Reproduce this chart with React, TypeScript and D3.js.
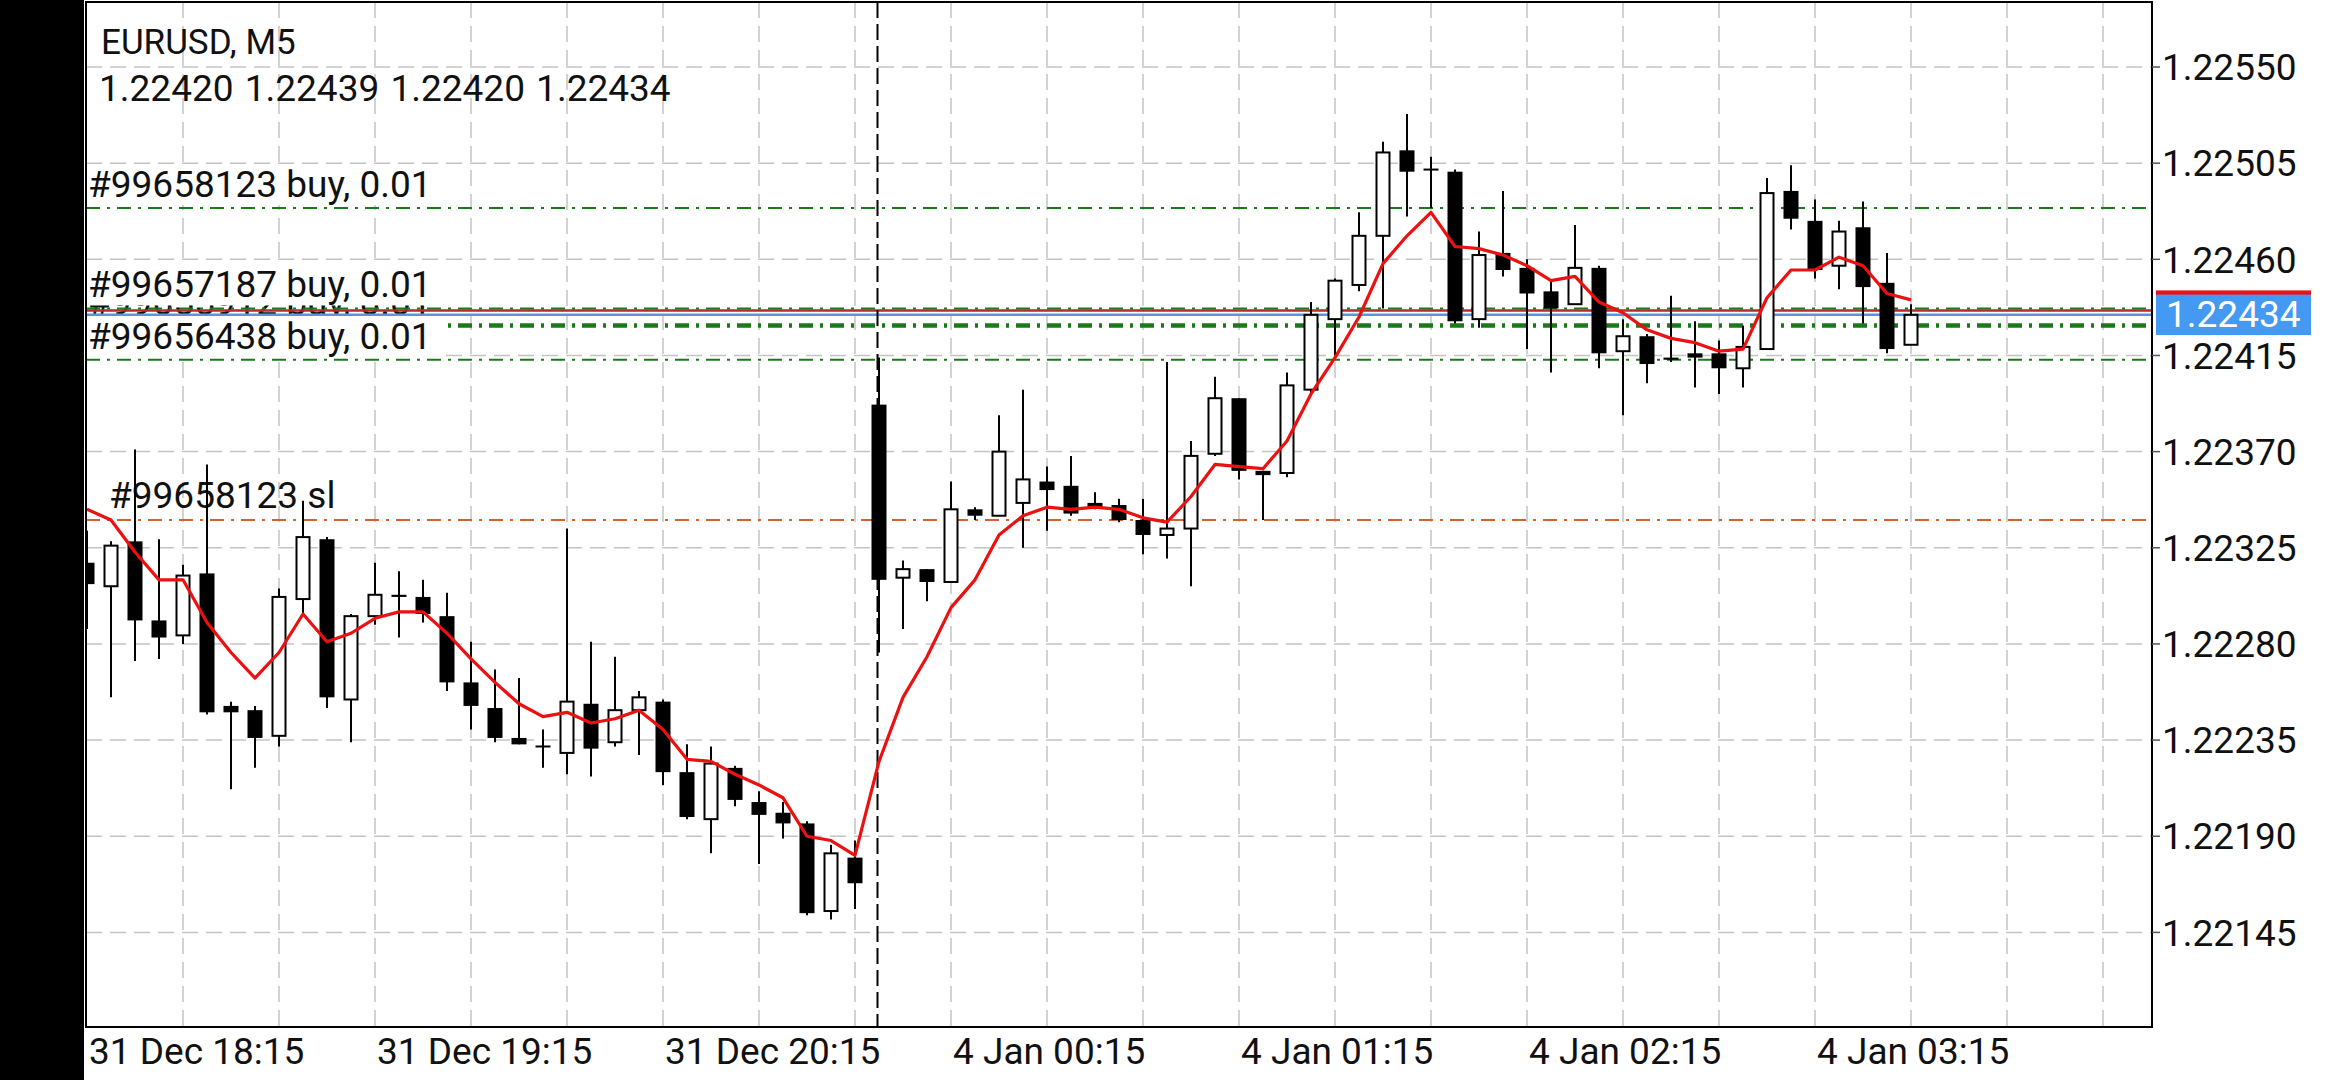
import React from "react";
import * as d3 from "d3";

// ---------- data ----------
const symbolTitle = "EURUSD, M5";
const lastBarQuote = ["1.22420", "1.22439", "1.22420", "1.22434"];

const opens = [
  1.22318, 1.22307, 1.22328, 1.22291, 1.22284, 1.22313, 1.22251, 1.22249, 1.22237, 1.22301,
  1.22329, 1.22254, 1.22293, 1.22303, 1.22302, 1.22293, 1.22262, 1.2225, 1.22236, 1.22232,
  1.22229, 1.22252, 1.22234, 1.22249, 1.22253, 1.2222, 1.22198, 1.22222, 1.22206, 1.22201,
  1.22196, 1.22155, 1.2218, 1.22392, 1.22311, 1.22315, 1.22309, 1.22343, 1.2234, 1.22346,
  1.22356, 1.22354, 1.22346, 1.22345, 1.22338, 1.22331, 1.22334, 1.22369, 1.22395, 1.22361,
  1.2236, 1.22399, 1.22432, 1.22448, 1.22471, 1.22511, 1.22502, 1.22501, 1.22432, 1.22463,
  1.22456, 1.22445, 1.22439, 1.22456, 1.22417, 1.22424, 1.22414, 1.22416, 1.22416, 1.22409,
  1.22418, 1.22492, 1.22478, 1.22457, 1.22475, 1.22449, 1.2242,
];
const highs = [
  1.22333, 1.22328, 1.22371, 1.22329, 1.22317, 1.22364, 1.22253, 1.22251, 1.22306, 1.22347,
  1.2233, 1.22294, 1.22318, 1.22314, 1.2231, 1.22304, 1.22281, 1.22268, 1.22264, 1.2224,
  1.22334, 1.22281, 1.22274, 1.22258, 1.22254, 1.22233, 1.22232, 1.22223, 1.22211, 1.22206,
  1.22197, 1.22186, 1.22188, 1.22414, 1.22319, 1.22315, 1.22356, 1.22344, 1.22387, 1.22399,
  1.22363, 1.22368, 1.22351, 1.22348, 1.22348, 1.22412, 1.22375, 1.22405, 1.22395, 1.22361,
  1.22407, 1.2244, 1.22451, 1.22482, 1.22515, 1.22528, 1.22508, 1.22502, 1.22473, 1.22492,
  1.2246, 1.2245, 1.22476, 1.22457, 1.22432, 1.22425, 1.22443, 1.22431, 1.22422, 1.22429,
  1.22498, 1.22504, 1.22488, 1.22478, 1.22487, 1.22463, 1.22439,
];
const lows = [
  1.22287, 1.22255, 1.22272, 1.22273, 1.2228, 1.22247, 1.22212, 1.22222, 1.22232, 1.22294,
  1.2225, 1.22234, 1.22289, 1.22283, 1.2229, 1.22258, 1.2224, 1.22234, 1.22233, 1.22222,
  1.22219, 1.22218, 1.22232, 1.22228, 1.22214, 1.22198, 1.22182, 1.22204, 1.22177, 1.22189,
  1.22153, 1.22151, 1.22156, 1.22276, 1.22287, 1.223, 1.22309, 1.22338, 1.2234, 1.22325,
  1.22333, 1.2234, 1.22343, 1.22337, 1.22322, 1.2232, 1.22307, 1.22368, 1.22357, 1.22338,
  1.22358, 1.22397, 1.22415, 1.22445, 1.22437, 1.2248, 1.22484, 1.2243, 1.22428, 1.22452,
  1.22418, 1.22407, 1.22439, 1.22409, 1.22387, 1.22402, 1.22412, 1.224, 1.22397, 1.224,
  1.22418, 1.22474, 1.22451, 1.22446, 1.2243, 1.22416, 1.2242,
];
const closes = [
  1.22308, 1.22326, 1.22291, 1.22283, 1.22312, 1.22248, 1.22248, 1.22236, 1.22302, 1.2233,
  1.22255, 1.22293, 1.22303, 1.22302, 1.22294, 1.22262, 1.22251, 1.22236, 1.22233, 1.22232,
  1.22253, 1.22231, 1.22249, 1.22255, 1.2222, 1.22199, 1.22224, 1.22207, 1.222, 1.22196,
  1.22154, 1.22182, 1.22168, 1.2231, 1.22315, 1.22309, 1.22343, 1.2234, 1.2237, 1.22357,
  1.22352, 1.22341, 1.22344, 1.22338, 1.22331, 1.22334, 1.22368, 1.22395, 1.22361, 1.22359,
  1.22401, 1.22434, 1.2245, 1.22471, 1.2251, 1.22501, 1.22502, 1.22431, 1.22462, 1.22455,
  1.22444, 1.22437, 1.22456, 1.22416, 1.22424, 1.22411, 1.22413, 1.22414, 1.22409, 1.22419,
  1.22491, 1.22479, 1.22455, 1.22473, 1.22447, 1.22418, 1.22434,
];
const maValues = [
  1.22343, 1.22338, 1.22323, 1.2231, 1.2231, 1.2229, 1.22276, 1.22264, 1.22276, 1.22294,
  1.22281, 1.22285, 1.22292, 1.22295, 1.22295, 1.22285, 1.22273, 1.22262, 1.22252, 1.22246,
  1.22248, 1.22243, 1.22245, 1.22249, 1.2224, 1.22226, 1.22225, 1.22219, 1.22214, 1.22208,
  1.2219, 1.22188, 1.22181, 1.22225, 1.22255, 1.22274, 1.22297, 1.2231, 1.22331, 1.2234,
  1.22344, 1.22343, 1.22344, 1.22343, 1.22339, 1.22337, 1.22349, 1.22364, 1.22363, 1.22362,
  1.22375, 1.22397, 1.22414, 1.22433, 1.22458, 1.22471, 1.22482, 1.22466, 1.22465, 1.22462,
  1.22457, 1.2245, 1.22452, 1.2244, 1.22435, 1.22427, 1.22423, 1.22421, 1.22417, 1.22418,
  1.22442, 1.22455, 1.22455, 1.22461, 1.22457, 1.22444, 1.22441,
];

const timeLabels = ["31 Dec 18:15", "31 Dec 19:15", "31 Dec 20:15", "4 Jan 00:15", "4 Jan 01:15", "4 Jan 02:15", "4 Jan 03:15"];
const timeLabelBars = [0, 12, 24, 36, 48, 60, 72];
const daySeparatorBars = [33];
const priceTicks = [1.2255, 1.22505, 1.2246, 1.22415, 1.2237, 1.22325, 1.2228, 1.22235, 1.2219, 1.22145];

const orderLabels = ["#99658123 buy, 0.01", "#99655912 buy, 0.01", "#99657187 buy, 0.01", "#99656438 buy, 0.01"];
const orderPrices = [1.22484, 1.22429, 1.22437, 1.22413];
const stopLabels = ["#99658123 sl"];
const stopPrices = [1.22338];
const bidPrice = 1.22434;
const askPrice = 1.22436;

// ---------- component ----------
export default function App() {
  const W = 2340;
  const H = 1080;
  const L = 86, T = 2, R = 2152, B = 1027;
  const barStep = 24;
  const lastBar = opens.length - 1;

  const x = d3.scaleLinear().domain([0, lastBar]).range([87, 87 + barStep * lastBar]);
  const y = d3.scaleLinear().domain([1.22145, 1.2255]).range([932.4, 67]);

  const gridBars = d3.range(4, Math.floor((R - 87) / barStep) + 1, 4);
  const fmt = d3.format(".5f");
  const font = "Roboto, 'Noto Sans', sans-serif";
  const green = "#1a7a1a";
  const dashDot = "14,7,3,7";
  const fs = 37;

  const maLine = d3
    .line<number>()
    .x((_, i) => x(i))
    .y((d) => y(d));

  const bodyW = 15;

  return (
    <div style={{ position: "absolute", left: 0, top: 0, width: W, height: H, background: "#fff" }}>
      <svg width={W} height={H} style={{ display: "block", fontFamily: font }}>
        <defs>
          <clipPath id="plotClip">
            <rect x={L + 1} y={T + 1} width={R - L - 2} height={B - T - 2} />
          </clipPath>
        </defs>
        <rect x={0} y={0} width={W} height={H} fill="#fff" />
        <rect x={0} y={0} width={84} height={H} fill="#000" />

        <g clipPath="url(#plotClip)">
          {/* grid */}
          {priceTicks.map((p) => (
            <line key={"hg" + p} x1={L} x2={R} y1={y(p)} y2={y(p)} stroke="#c4c4c4" strokeWidth={1.5} strokeDasharray="16,8" />
          ))}
          {gridBars.map((b) => (
            <line key={"vg" + b} x1={x(b)} x2={x(b)} y1={T} y2={B} stroke="#c4c4c4" strokeWidth={1.5} strokeDasharray="16,8" />
          ))}

          {/* header */}
          <text x={101} y={54} fontSize={35} fill="#111">{symbolTitle}</text>
          <text x={99} y={101} fontSize={fs} fill="#111" style={{ wordSpacing: "2px" }}>{lastBarQuote.join(" ")}</text>

          {/* order lines with labels */}
          {orderLabels.map((lab, i) => {
            const ly = y(orderPrices[i]);
            const base = ly - 11;
            return (
              <g key={"ord" + i}>
                <rect x={L} y={base - 33} width={355} height={ly - 3 - (base - 33)} fill="#fff" />
                <text x={88} y={base} fontSize={fs} fill="#111">{lab}</text>
                <line x1={L} x2={R} y1={ly} y2={ly} stroke={green} strokeWidth={i === 1 ? 4.5 : 2} strokeDasharray={dashDot} />
              </g>
            );
          })}
          {/* stop loss */}
          {stopLabels.map((lab, i) => {
            const ly = y(stopPrices[i]);
            return (
              <g key={"sl" + i}>
                <text x={109} y={ly - 11.5} fontSize={fs} fill="#111">{lab}</text>
                <line x1={L} x2={R} y1={ly} y2={ly} stroke="#d4622e" strokeWidth={2} strokeDasharray={dashDot} />
              </g>
            );
          })}

          {/* bid / ask */}
          <line x1={L} x2={R} y1={y(askPrice)} y2={y(askPrice)} stroke="#b52a2a" strokeWidth={2.5} />
          <line x1={L} x2={R} y1={y(bidPrice)} y2={y(bidPrice)} stroke="#5b93e0" strokeWidth={2.5} />

          {/* day separator */}
          {daySeparatorBars.map((b) => (
            <line key={"sep" + b} x1={x(b) - 1.5} x2={x(b) - 1.5} y1={T} y2={B} stroke="#000" strokeWidth={2} strokeDasharray="16,6" />
          ))}

          {/* candles */}
          {opens.map((o, i) => {
            const c = closes[i];
            const cx = x(i);
            const bull = c > o;
            const top = y(Math.max(o, c));
            const bot = y(Math.min(o, c));
            const h = Math.max(2, bot - top);
            return (
              <g key={"c" + i}>
                <line x1={cx} x2={cx} y1={y(highs[i])} y2={y(lows[i])} stroke="#000" strokeWidth={2} />
                {bull ? (
                  <rect x={cx - bodyW / 2 + 1} y={top} width={bodyW - 2} height={h} fill="#fff" stroke="#000" strokeWidth={2} />
                ) : (
                  <rect x={cx - bodyW / 2} y={top - (h > 2 ? 0 : 1)} width={bodyW} height={h} fill="#000" />
                )}
              </g>
            );
          })}

          {/* moving average */}
          <path d={maLine(maValues) || ""} fill="none" stroke="#ec1010" strokeWidth={3.2} strokeLinejoin="round" />
        </g>

        {/* frame */}
        <rect x={L} y={T} width={R - L} height={B - T} fill="none" stroke="#000" strokeWidth={2} />

        {/* price axis */}
        {priceTicks.map((p) => (
          <g key={"pt" + p}>
            <line x1={R} x2={R + 8} y1={y(p)} y2={y(p)} stroke="#555" strokeWidth={1.5} />
            <text x={2162} y={y(p) + 13.2} fontSize={fs} fill="#111">{fmt(p)}</text>
          </g>
        ))}
        {/* ask box (mostly hidden) and bid box */}
        <rect x={2156} y={y(askPrice) - 20.2} width={155} height={40.4} fill="#e8141a" />
        <rect x={2156} y={y(bidPrice) - 20.2} width={155} height={40.4} fill="#4499f3" />
        <text x={2166} y={y(bidPrice) + 12.5} fontSize={fs} fill="#fff">{fmt(bidPrice)}</text>

        {/* time axis */}
        {timeLabels.map((t, i) => (
          <text key={"tl" + i} x={x(timeLabelBars[i]) + 2} y={1064} fontSize={fs} fill="#111">{t}</text>
        ))}
      </svg>
    </div>
  );
}
